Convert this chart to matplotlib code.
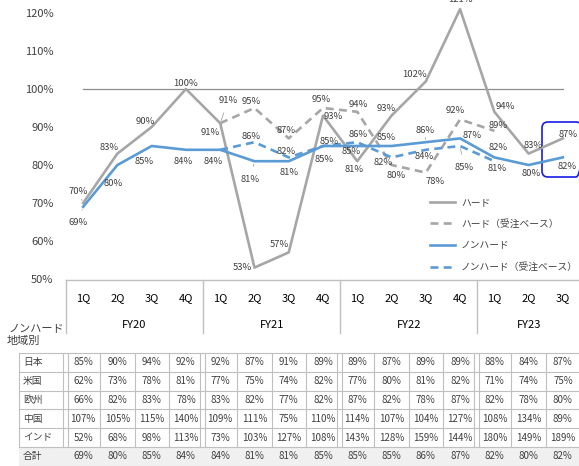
import numpy as np
import matplotlib
matplotlib.use("Agg")
import matplotlib.pyplot as plt
from matplotlib.lines import Line2D
from matplotlib.patches import FancyBboxPatch, Rectangle
from matplotlib.transforms import blended_transform_factory

plt.rcParams['font.family'] = ['Noto Sans CJK JP', 'DejaVu Sans']

# ---------------- data ----------------
quarters = ['1Q', '2Q', '3Q', '4Q'] * 3 + ['1Q', '2Q', '3Q']
fiscal_years = ['FY20', 'FY21', 'FY22', 'FY23']
fy_sizes = [4, 4, 4, 3]

hard = [70, 83, 90, 100, 91, 53, 57, 93, 81, 93, 102, 121, 94, 83, 87]
hard_order = [np.nan] * 4 + [91, 95, 87, 95, 94, 80, 78, 92, 89] + [np.nan] * 2
nonhard = [69, 80, 85, 84, 84, 81, 81, 85, 85, 85, 86, 87, 82, 80, 82]
nonhard_order = [np.nan] * 4 + [84, 86, 82, 85, 86, 82, 84, 85, 81] + [np.nan] * 2

series_names = ['ハード', 'ハード（受注ベース）', 'ノンハード', 'ノンハード（受注ベース）']

region_names = ['日本', '米国', '欧州', '中国', 'インド', '合計']
japan = [85, 90, 94, 92, 92, 87, 91, 89, 89, 87, 89, 89, 88, 84, 87]
usa = [62, 73, 78, 81, 77, 75, 74, 82, 77, 80, 81, 82, 71, 74, 75]
europe = [66, 82, 83, 78, 83, 82, 77, 82, 87, 82, 78, 87, 82, 78, 80]
china = [107, 105, 115, 140, 109, 111, 75, 110, 114, 107, 104, 127, 108, 134, 89]
india = [52, 68, 98, 113, 73, 103, 127, 108, 143, 128, 159, 144, 180, 149, 189]
total = [69, 80, 85, 84, 84, 81, 81, 85, 85, 85, 86, 87, 82, 80, 82]
region_values = [japan, usa, europe, china, india, total]

# ---------------- label placement (pixel offsets) ----------------
hard_off = [(-5, 11), (-8, 6), (-6, 5), (0, 6), (-10, -9), (-12, 0), (-9, 8), (10, -1),
            (-3, -8), (-5, 7), (-11, 7), (0, 10), (11, 5), (5, 8), (5, 4)]
hard_order_off = [None] * 4 + [(8, 23), (-3, 6), (-3, 8), (-2, 8), (1, 7), (5, -11),
                               (9, -9), (-5, 9), (4, 5)] + [None] * 2
nonhard_off = [(-5, -16), (-4, -18), (-7, -16), (-3, -12), (-7, -12), (-4, -18), (0, -11),
               (1, -13), (-6, -6), (-5, 9), (-1, 12), (12, 3), (4, 10), (3, -9), (4, -9)]
nonhard_order_off = [None] * 4 + [None, (-3, 6), (-3, 6), (6, 4), (1, 8), (-8, -5),
                                  (-2, -7), (4, -21), (3, -7)] + [None] * 2
leaders = {('h', 0), ('ho', 4), ('n', 0), ('n', 5), ('n', 10), ('no', 11)}

GRAY = '#A6A6A6'
BLUE = '#5B9BD5'
TXT = '#404040'

W, H = 579, 466
fig = plt.figure(figsize=(W / 100, H / 100), dpi=100)

# overlay axes in pixel coordinates
ov = fig.add_axes([0, 0, 1, 1])
ov.set_xlim(0, W)
ov.set_ylim(H, 0)
ov.axis('off')

ax_left, ax_right, ax_top, ax_bot = 66, 580, 13, 279
ax = fig.add_axes([ax_left / W, 1 - ax_bot / H, (ax_right - ax_left) / W, (ax_bot - ax_top) / H])
ax.patch.set_alpha(0)
n = len(quarters)
x = np.arange(n)
ax.set_xlim(-0.5, n - 0.5)
ax.set_ylim(50, 120)
for s in ax.spines.values():
    s.set_visible(False)
ax.set_xticks([])
yt = list(range(50, 121, 10))
ax.set_yticks(yt)
ax.set_yticklabels([f'{v}%' for v in yt], fontsize=8, color=TXT)
ax.tick_params(axis='y', length=0, pad=9)

# 100% reference line
ax.plot([x[0], x[-1]], [100, 100], color='#8C8C8C', lw=0.9, zorder=1)

lh, = ax.plot(x, hard, color=GRAY, lw=1.9, clip_on=False, zorder=3)
lho, = ax.plot(x, hard_order, color=GRAY, lw=1.9, ls=(0, (3, 2)), clip_on=False, zorder=3)
ln, = ax.plot(x, nonhard, color=BLUE, lw=1.9, clip_on=False, zorder=4)
lno, = ax.plot(x, nonhard_order, color=BLUE, lw=1.9, ls=(0, (3, 2)), clip_on=False, zorder=4)


def put_labels(vals, offs, key):
    for i, (v, o) in enumerate(zip(vals, offs)):
        if o is None or np.isnan(v):
            continue
        ap = None
        if (key, i) in leaders:
            ap = dict(arrowstyle='-', color=GRAY, lw=0.6, shrinkA=4, shrinkB=2)
        ax.annotate(f'{v:.0f}%', (i, v), xytext=o, textcoords='offset pixels',
                    ha='center', va='center', fontsize=6.8, color=TXT,
                    arrowprops=ap, annotation_clip=False, zorder=6)


put_labels(hard, hard_off, 'h')
put_labels(hard_order, hard_order_off, 'ho')
put_labels(nonhard, nonhard_off, 'n')
put_labels(nonhard_order, nonhard_order_off, 'no')

# highlight box on last quarter
box = FancyBboxPatch((542, 122), 40, 55, boxstyle='round,pad=0,rounding_size=6',
                     fc='none', ec='#1A1AE6', lw=1.2, zorder=7, clip_on=False)
ov.add_patch(box)

leg = ax.legend([lh, lho, ln, lno], series_names, loc='upper left',
                bbox_to_anchor=(430 / W, 1 - 197 / H), bbox_transform=fig.transFigure,
                frameon=False, fontsize=7, handlelength=2.6, handletextpad=0.6,
                labelspacing=1.2, borderpad=0, borderaxespad=0)
for t in leg.get_texts():
    t.set_color(TXT)

# ---------------- category header ----------------
bt = blended_transform_factory(ax.transData, ov.transData)
LINE = '#BFBFBF'
ov.plot([ax_left, W], [280, 280], color=LINE, lw=1.0)
start = 0
for name, size in zip(fiscal_years, fy_sizes):
    ov.plot([start - 0.5, start - 0.5], [280, 333], color=LINE, lw=1.0, transform=bt)
    ov.text(start + (size - 1) / 2, 325, name, transform=bt, ha='center', va='center',
            fontsize=8, color='#000000')
    start += size
for i, q in enumerate(quarters):
    ov.text(i, 298, q, transform=bt, ha='center', va='center', fontsize=8, color='#000000')

ov.text(8, 329, 'ノンハード', ha='left', va='center', fontsize=8, color=TXT)
ov.text(7, 341, '地域別', ha='left', va='center', fontsize=8, color=TXT)

# ---------------- table ----------------
top = 353
rh = 18.8
nrows = len(region_names)
# total row background
ov.add_patch(Rectangle((19, top + rh * (nrows - 1)), W - 19, rh, fc='#F0F0F0', ec='none', zorder=0))
for r in range(nrows + 1):
    y = top + rh * r
    ov.plot([19, W], [y, y], color=LINE, lw=0.8, zorder=1)
bottom = top + rh * nrows
ov.plot([19, 19], [top, bottom - rh], color=LINE, lw=0.8)
# vertical grid lines
group_bounds = set(np.cumsum([0] + fy_sizes[:-1]))
for i in range(n + 1):
    xb = i - 0.5
    y2 = bottom - rh
    if i in group_bounds:
        for dx in (-0.08, 0.05):
            ov.plot([xb + dx, xb + dx], [top, y2], color=LINE, lw=0.8, transform=bt)
    elif i < n:
        ov.plot([xb, xb], [top, y2], color=LINE, lw=0.8, transform=bt)
for r, (name, vals) in enumerate(zip(region_names, region_values)):
    yc = top + rh * (r + 0.5)
    ov.text(23, yc, name, ha='left', va='center', fontsize=7, color=TXT)
    for i, v in enumerate(vals):
        ov.text(i, yc, f'{v}%', transform=bt, ha='center', va='center', fontsize=7, color=TXT)

fig.savefig('out.png', dpi=100)
